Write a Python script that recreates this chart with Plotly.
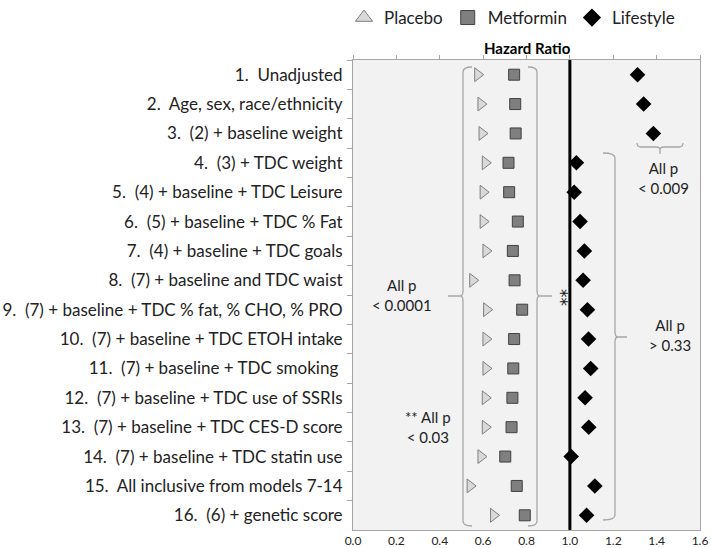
import plotly.graph_objects as go

NB = "\u00a0"
models = [
    "1." + NB + " Unadjusted",
    "2." + NB + " Age, sex, race/ethnicity",
    "3." + NB + " (2) + baseline weight",
    "4." + NB + " (3) + TDC weight",
    "5." + NB + " (4) + baseline + TDC Leisure",
    "6." + NB + " (5) + baseline + TDC % Fat",
    "7." + NB + " (4) + baseline + TDC goals",
    "8." + NB + " (7) + baseline and TDC waist",
    "9." + NB + " (7) + baseline + TDC % fat, % CHO, % PRO",
    "10." + NB + " (7) + baseline + TDC ETOH intake",
    "11." + NB + " (7) + baseline + TDC smoking" + NB,
    "12." + NB + " (7) + baseline + TDC use of SSRIs",
    "13." + NB + " (7) + baseline + TDC CES-D score",
    "14." + NB + " (7) + baseline + TDC statin use",
    "15." + NB + " All inclusive from models 7-14",
    "16." + NB + " (6) + genetic score",
]
placebo = [0.575, 0.59, 0.595, 0.61, 0.60, 0.60, 0.613, 0.552, 0.616, 0.613, 0.613, 0.61, 0.61, 0.59, 0.54, 0.648]
metformin = [0.743, 0.748, 0.75, 0.717, 0.72, 0.76, 0.737, 0.745, 0.78, 0.743, 0.739, 0.735, 0.731, 0.702, 0.755, 0.792]
lifestyle = [1.312, 1.34, 1.385, 1.03, 1.02, 1.047, 1.067, 1.061, 1.081, 1.086, 1.096, 1.07, 1.087, 1.006, 1.115, 1.077]
x_ticks = [0.0, 0.2, 0.4, 0.6, 0.8, 1.0, 1.2, 1.4, 1.6]

FONT = "Lato, 'Open Sans', sans-serif"

# plot area in pixels
L, R, T, B = 353, 700, 60, 530
W, H = 711, 548


def px(x):
    return (x - L) / (R - L)


def py(y):
    return (B - y) / (B - T)


def P(x, y):
    return f"{px(x):.5f},{py(y):.5f}"


def vbrace(x, y0, y1, hook, ym, tip, r=5):
    d = 1 if tip > 0 else -1
    return (f"M {P(x + hook, y0)} Q {P(x, y0)} {P(x, y0 + r)} "
            f"L {P(x, ym - r)} Q {P(x, ym)} {P(x + d * 3, ym)} L {P(x + tip, ym)} "
            f"M {P(x + d * 3, ym)} Q {P(x, ym)} {P(x, ym + r)} "
            f"L {P(x, y1 - r)} Q {P(x, y1)} {P(x + hook, y1)}")


def hbrace(y, x0, x1, hook, xm, tip, r=4):
    d = 1 if tip > 0 else -1
    return (f"M {P(x0, y + hook)} Q {P(x0, y)} {P(x0 + r, y)} "
            f"L {P(xm - r, y)} Q {P(xm, y)} {P(xm, y + d * 3)} L {P(xm, y + tip)} "
            f"M {P(xm, y + d * 3)} Q {P(xm, y)} {P(xm + r, y)} "
            f"L {P(x1 - r, y)} Q {P(x1, y)} {P(x1, y + hook)}")


fig = go.Figure()

fig.add_trace(go.Scatter(x=placebo, y=models, mode="markers", showlegend=False,
                         marker=dict(symbol="triangle-right", size=12, color="#d9d9d9",
                                     line=dict(color="#7f7f7f", width=1))))
fig.add_trace(go.Scatter(x=metformin, y=models, mode="markers", showlegend=False,
                         marker=dict(symbol="square", size=11, color="#7f7f7f",
                                     line=dict(color="#404040", width=1))))
fig.add_trace(go.Scatter(x=lifestyle, y=models, mode="markers", showlegend=False,
                         marker=dict(symbol="diamond", size=12, color="black",
                                     line=dict(color="black", width=0))))
fig.add_trace(go.Scatter(x=[None], y=[None], mode="markers", name="Placebo",
                         marker=dict(symbol="triangle-up", size=15, color="#d9d9d9",
                                     line=dict(color="#7f7f7f", width=1))))
fig.add_trace(go.Scatter(x=[None], y=[None], mode="markers", name="Metformin",
                         marker=dict(symbol="square", size=14, color="#7f7f7f",
                                     line=dict(color="#404040", width=1))))
fig.add_trace(go.Scatter(x=[None], y=[None], mode="markers", name="Lifestyle",
                         marker=dict(symbol="diamond", size=14, color="black")))
# empty trace so that the top tick axis is drawn
fig.add_trace(go.Scatter(x=[None], y=[None], xaxis="x2", mode="markers",
                         showlegend=False, hoverinfo="skip"))

shapes = []
shapes.append(dict(type="line", xref="x", yref="paper", x0=1.0, x1=1.0, y0=0, y1=1,
                   line=dict(color="black", width=3), layer="above"))
gray = dict(color="#a6a6a6", width=1.3)
shapes.append(dict(type="path", xref="paper", yref="paper", line=gray,
                   path=vbrace(463, 67, 526, 9, 296, -15)))
shapes.append(dict(type="path", xref="paper", yref="paper", line=gray,
                   path=vbrace(537, 67, 526, -9, 296, 15)))
shapes.append(dict(type="path", xref="paper", yref="paper", line=gray,
                   path=vbrace(615, 153, 520, -12, 337, 12)))
shapes.append(dict(type="path", xref="paper", yref="paper", line=gray,
                   path=hbrace(147, 637, 683, -4, 660, 7)))

ann_font = dict(family=FONT, size=15, color="#222222")
star_font = dict(family="'DejaVu Sans', sans-serif", size=17, color="#222222")


def ann(text, x, y, font, angle=0):
    return dict(text=text, x=px(x), y=py(y), xref="paper", yref="paper",
                xanchor="center", yanchor="middle", showarrow=False, font=font,
                textangle=angle)


annotations = [
    ann("<b>Hazard Ratio</b>", 527, 48, dict(family=FONT, size=15, color="black")),
    ann("All p<br>< 0.009", 663, 178, ann_font),
    ann("All p<br>< 0.0001", 402, 295, ann_font),
    ann("All p<br>> 0.33", 670, 335, ann_font),
    ann("** All p<br>< 0.03", 428, 427, ann_font),
    ann("**", 561, 297, star_font, 90),
]

fig.update_layout(
    width=W, height=H,
    margin=dict(l=L, r=W - R, t=T, b=H - B, autoexpand=False),
    paper_bgcolor="white",
    plot_bgcolor="#f2f2f2",
    font=dict(family=FONT, color="#222222"),
    shapes=shapes,
    annotations=annotations,
    legend=dict(orientation="h", x=px(512), xanchor="center", y=py(0), yanchor="top",
                font=dict(family=FONT, size=17, color="#222222"),
                bgcolor="rgba(0,0,0,0)", itemwidth=30, tracegroupgap=0),
    xaxis=dict(range=[0, 1.6], tickvals=x_ticks, tickformat=".1f",
               showgrid=False, zeroline=False, showline=True, linecolor="#a6a6a6",
               linewidth=1, mirror=True, ticks="", automargin=False,
               tickfont=dict(size=12, color="#222222")),
    xaxis2=dict(range=[0, 1.6], overlaying="x", side="top", tickvals=x_ticks,
                showticklabels=False, ticks="outside", ticklen=4, tickcolor="#a6a6a6",
                showgrid=False, zeroline=False, showline=False, automargin=False),
    yaxis=dict(type="category", categoryorder="array", categoryarray=models,
               range=[len(models) - 0.5, -0.5], autorange=False,
               tickson="boundaries", ticks="outside", ticklen=5,
               tickcolor="#a6a6a6", showgrid=False, showline=True, linecolor="#a6a6a6",
               mirror=True, ticklabelstandoff=6, automargin=False,
               tickfont=dict(family=FONT, size=17, color="#222222")),
)

fig.write_html("out.html", config={"displayModeBar": False},
               post_script="document.body.style.margin='0';document.body.style.overflow='hidden';")
